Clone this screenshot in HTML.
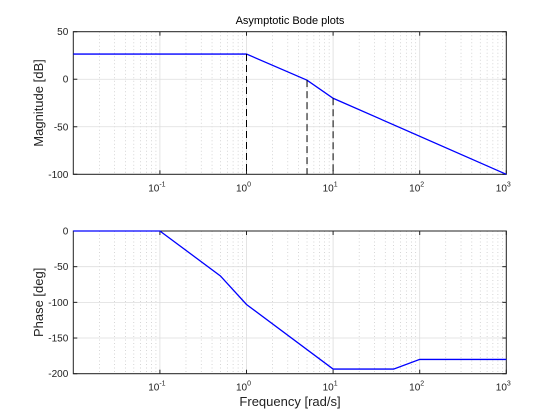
<!DOCTYPE html>
<html><head><meta charset="utf-8"><style>
body{margin:0;background:#fff;}
svg{display:block;font-family:"Liberation Sans",sans-serif;}
</style></head><body>
<svg id="c" width="560" height="420"></svg>
<script>
const magFreq=[0.01,1,5,10,1000];
const magDb=[26.5,26.5,-1,-20,-100];
const phFreq=[0.01,0.1,0.5,1,10,50,100,1000];
const phDeg=[0,0,-63,-103,-193.5,-193.5,-180,-180];
const breakFreqs=[1,5,10];
const breakMag=[26.5,-1,-20];
const magTicks=[50,0,-50,-100];
const phTicks=[0,-50,-100,-150,-200];
const xDecades=[-1,0,1,2,3];

const NS="http://www.w3.org/2000/svg";
const svg=document.getElementById('c');
const X0=73.3,X1=506.3,LMIN=-2,LMAX=3;
function sx(f){return X0+(Math.log10(f)-LMIN)/(LMAX-LMIN)*(X1-X0);}
function mk(t,a,p){const e=document.createElementNS(NS,t);for(const k in a)e.setAttribute(k,a[k]);(p||svg).appendChild(e);return e;}

function axes(name,top,bot,ymin,ymax,ticks,ylabel,freq,vals){
  const g=mk('g',{});
  
  
  const sy=v=>bot-(v-ymin)/(ymax-ymin)*(bot-top);
  for(let d=LMIN;d<LMAX;d++)for(let m=2;m<=9;m++){
    const x=sx(m*Math.pow(10,d));
    mk('line',{x1:x,x2:x,y1:top,y2:bot,stroke:'#bbb','stroke-width':0.6,'stroke-dasharray':'1,2.5'},g);
  }
  for(const d of xDecades){const x=sx(Math.pow(10,d));
    mk('line',{x1:x,x2:x,y1:top,y2:bot,stroke:'#ddd','stroke-width':0.8},g);}
  for(const t of ticks){const y=sy(t);
    mk('line',{x1:X0,x2:X1,y1:y,y2:y,stroke:'#ddd','stroke-width':0.8},g);
    mk('line',{x1:X0,x2:X0+4,y1:y,y2:y,stroke:'#222'},g);
    mk('line',{x1:X1,x2:X1-4,y1:y,y2:y,stroke:'#222'},g);
    const tx=mk('text',{x:X0-5,y:y+3.5,'font-size':10,'text-anchor':'end',fill:'#222'},g);tx.textContent=t;
    
    
  }
  for(const d of xDecades){const x=sx(Math.pow(10,d));
    mk('line',{x1:x,x2:x,y1:bot,y2:bot-4,stroke:'#222'},g);
    mk('line',{x1:x,x2:x,y1:top,y2:top+4,stroke:'#222'},g);
    const tx=mk('text',{x:x-3,y:bot+17,'font-size':10,'text-anchor':'middle',fill:'#222'},g);
    tx.textContent='10';
    
    
    const sp=mk('tspan',{dy:-5,'font-size':7},tx);sp.textContent=d;
  }
  mk('rect',{x:X0,y:top,width:X1-X0,height:bot-top,fill:'none',stroke:'#222','stroke-width':1},g);
  let dpts=freq.map((f,i)=>sx(f).toFixed(2)+','+sy(vals[i]).toFixed(2)).join(' ');
  const pl=mk('polyline',{points:dpts,fill:'none',stroke:'#0000ff','stroke-width':1.3},g);
  
  
  const yl=mk('text',{x:0,y:0,'font-size':13,'text-anchor':'middle',fill:'#222',transform:`translate(43,${(top+bot)/2}) rotate(-90)`},g);
  yl.textContent=ylabel;
  
  
  return sy;
}
const syM=axes('magnitude-plot',31.7,174.3,-100,50,magTicks,'Magnitude [dB]',magFreq,magDb);
breakFreqs.forEach((f,i)=>{
  const l=mk('line',{x1:sx(f),x2:sx(f),y1:syM(breakMag[i]),y2:174.3,stroke:'#000','stroke-width':1,'stroke-dasharray':'7,4'});
  
  
});
axes('phase-plot',231,373.7,-200,0,phTicks,'Phase [deg]',phFreq,phDeg);
const t=mk('text',{x:290,y:24,'font-size':11,'text-anchor':'middle',fill:'#000'});
t.textContent='Asymptotic Bode plots';


const xl=mk('text',{x:290,y:406,'font-size':13,'text-anchor':'middle',fill:'#222'});
xl.textContent='Frequency [rad/s]';


</script>
</body></html>
